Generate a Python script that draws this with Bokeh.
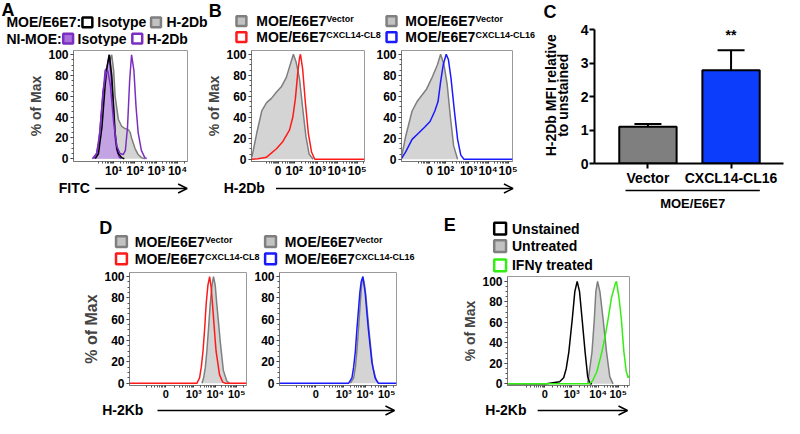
import numpy as np
from bokeh.plotting import figure
from bokeh.layouts import row, column
from bokeh.models import (Range1d, FixedTicker, Label, Arrow, OpenHead, Whisker,
                          TeeHead, ColumnDataSource)
from bokeh.core.properties import value
from bokeh.embed import file_html
from bokeh.resources import INLINE

FONT = "Liberation Sans"

# ---------------------------------------------------------------- data
# Panel A  (x in log10 FITC units)
A_TICKS = [1, 2, 3, 4]
A_LABELS = ["10¹", "10²", "10³", "10⁴"]
a_e6e7_iso_x = [0.14, 0.29, 0.45, 0.60, 0.70, 0.80, 0.91, 1.00, 1.07, 1.15, 1.22, 1.38, 1.50]
a_e6e7_iso_y = [0, 5, 30, 70, 90, 100, 80, 50, 25, 10, 5, 1, 0]
a_e6e7_h2db_x = [0.29, 0.45, 0.60, 0.76, 0.91, 1.00, 1.07, 1.22, 1.38, 1.53, 1.69, 1.78, 1.84, 2.00, 2.15, 2.31, 2.46]
a_e6e7_h2db_y = [0, 20, 60, 90, 100, 85, 60, 38, 31, 29, 28, 25, 20, 10, 4, 1, 0]
a_ni_iso_x = [0.06, 0.20, 0.30, 0.45, 0.60, 0.70, 0.78, 0.90, 1.00, 1.07, 1.15, 1.25, 1.35]
a_ni_iso_y = [0, 5, 15, 50, 85, 88, 100, 75, 45, 20, 8, 2, 0]
a_ni_h2db_x = [0.0, 0.2, 0.35, 0.5, 0.62, 0.72, 0.85, 1.0, 1.15, 1.3, 1.45, 1.55, 1.65, 1.75, 1.84, 1.95, 2.05, 2.15, 2.3, 2.46, 2.55]
a_ni_h2db_y = [0, 5, 25, 65, 80, 85, 70, 35, 12, 5, 4, 8, 30, 75, 100, 85, 50, 25, 8, 1, 0]

# Panel B  (biexponential display units)
B_TICKS = [0, 0.8, 1.95, 2.93, 3.93]
B_LABELS = ["0", "10²", "10³", "10⁴", "10⁵"]
b1_vec_x = [-1.30, -1.06, -0.81, -0.57, -0.33, -0.08, 0.16, 0.41, 0.60, 0.76, 0.89, 1.06, 1.22, 1.38, 1.54, 1.74]
b1_vec_y = [2, 25, 46, 54, 58, 64, 69, 78, 90, 100, 93, 77, 49, 22, 5, 0]
b1_cl8_x = [-1.32, -1.0, -0.57, -0.08, 0.24, 0.57, 0.73, 0.86, 0.98, 1.06, 1.11, 1.22, 1.35, 1.50, 1.66, 1.82, 4.29]
b1_cl8_y = [0, 0.5, 2, 10, 17, 28, 40, 58, 83, 96, 100, 86, 55, 25, 7, 0, 0]
b2_vec_x = [-1.41, -1.20, -0.88, -0.63, -0.39, -0.15, 0.10, 0.39, 0.55, 0.72, 0.88, 1.04, 1.20, 1.40]
b2_vec_y = [2, 22, 46, 55, 61, 67, 77, 90, 100, 90, 71, 40, 13, 0]
b2_cl16_x = [-1.41, -1.20, -0.88, -0.55, -0.23, 0.02, 0.26, 0.42, 0.55, 0.68, 0.83, 0.94, 1.07, 1.24, 1.40, 1.56, 1.72, 4.15]
b2_cl16_y = [0.6, 7, 19, 25, 31, 36, 46, 55, 74, 90, 100, 95, 77, 46, 19, 4, 0, 0]

# Panel C
c_groups = ["Vector", "CXCL14-CL16"]
c_mean = [1.10, 2.78]
c_err_low = [1.03, 2.22]
c_err_high = [1.18, 3.38]
c_colors = ["#7f7f7f", "#0b3dfb"]
c_yticks = [0, 1, 2, 3, 4]

# Panel D
D_TICKS = [0, 1.31, 2.31, 3.31]
D_LABELS = ["0", "10³", "10⁴", "10⁵"]
d1_vec_x = [1.69, 1.77, 1.85, 1.92, 2.00, 2.08, 2.16, 2.23, 2.31, 2.38, 2.46, 2.54, 2.69, 2.85, 2.97]
d1_vec_y = [0, 5, 15, 30, 52, 75, 92, 100, 92, 75, 58, 40, 12, 2, 0]
d1_cl8_x = [-1.69, 1.46, 1.58, 1.66, 1.74, 1.82, 1.89, 1.97, 2.05, 2.12, 2.20, 2.28, 2.35, 2.51, 2.66, 2.77, 3.77]
d1_cl8_y = [0, 0, 5, 15, 30, 52, 75, 92, 100, 90, 70, 48, 30, 8, 1, 0, 0]
d2_vec_x = [1.62, 1.77, 1.85, 1.92, 2.00, 2.08, 2.14, 2.20, 2.28, 2.35, 2.43, 2.51, 2.66, 2.82, 2.92]
d2_vec_y = [0, 5, 15, 30, 52, 75, 92, 100, 92, 80, 62, 45, 15, 3, 0]
d2_cl16_x = [-1.69, 1.54, 1.69, 1.77, 1.85, 1.92, 2.00, 2.06, 2.12, 2.20, 2.31, 2.38, 2.46, 2.62, 2.77, 2.92, 3.77]
d2_cl16_y = [0, 0, 5, 15, 30, 50, 70, 85, 95, 100, 85, 68, 50, 20, 5, 0, 0]

# Panel E
E_TICKS = [0, 1.25, 2.49, 3.42]
E_LABELS = ["0", "10³", "10⁴", "10⁵"]
e_unst_x = [-1.74, 0.08, 0.38, 0.69, 0.88, 1.00, 1.12, 1.28, 1.40, 1.51, 1.62, 1.74, 1.88, 2.00, 2.11, 2.2]
e_unst_y = [0, 0, 1, 2, 6, 15, 31, 63, 90, 100, 90, 63, 31, 7, 0, 0]
e_untr_x = [2.00, 2.20, 2.31, 2.38, 2.46, 2.57, 2.72, 2.88, 3.03, 3.18]
e_untr_y = [0, 31, 63, 90, 100, 90, 63, 31, 7, 0]
e_ifn_x = [-1.74, 2.08, 2.23, 2.43, 2.66, 2.82, 2.95, 3.11, 3.28, 3.34, 3.46, 3.57, 3.69, 3.80, 3.89, 3.95]
e_ifn_y = [0, 0, 3, 12, 31, 47, 63, 84, 97, 100, 84, 63, 31, 12, 6, 8]

# ---------------------------------------------------------------- colours
GRAY_FILL = "#d4d4d4"
GRAY_LINE = "#7f7f7f"
PURPLE = "#7a2fc0"
PURPLE_FILL = "#c3a3e3"
PURPLE_SWATCH = "#a970dc"
RED = "#ff1a1a"
BLUE = "#1a1aff"
GREEN = "#33ee11"

# ---------------------------------------------------------------- geometry helpers
SX = 784 / 794.0
SY = 418 / 428.0


def X(xr):
    return (xr - 4) * SX


def Y(yr):
    return (yr - 6) * SY


def ri(v):
    return int(round(v))


def canvas(x0, y0, x1, y1):
    L, R, T, B = ri(X(x0)), ri(X(x1)), ri(Y(y0)), ri(Y(y1))
    xa, xb = L / SX + 4, R / SX + 4
    ya, yb = T / SY + 6, B / SY + 6
    p = figure(width=R - L, height=B - T, x_range=Range1d(xa, xb), y_range=Range1d(yb, ya),
               x_axis_type=None, y_axis_type=None, min_border=0, toolbar_location=None,
               outline_line_color=None, output_backend="svg")
    p.background_fill_color = "white"
    p.border_fill_color = "white"
    return p


def texts(p, xs, ys, ts, size="14px", align="left", angle=0.0):
    p.text(x=xs, y=ys, text=ts, text_font=value(FONT), text_font_style="bold",
           text_font_size=size, text_align=align, text_baseline="middle", text_color="black",
           angle=angle)


def swatch(p, cx, cy, s, fill, line):
    p.rect(x=[cx], y=[cy], width=s, height=s, fill_color=fill, line_color=line, line_width=2.5)


def arrow(p, x0, x1, y):
    p.add_layout(Arrow(end=OpenHead(size=9, line_width=1.5, line_color="black"),
                       x_start=x0, y_start=y, x_end=x1, y_end=y, line_width=1.5, line_color="black"))


def minor_from(ticks, lo, hi):
    step = ticks[1] - ticks[0]
    ext = [ticks[0] - step] + list(ticks) + [ticks[-1] + (ticks[-1] - ticks[-2])]
    out = []
    for a, b in zip(ext[:-1], ext[1:]):
        for k in range(2, 10):
            v = a + np.log10(k) * (b - a)
            if lo < v < hi:
                out.append(float(v))
    return out


def hist_fig(box, frame, x_rng, y_rng, xticks, xlabels, ylabel, ylabel_size="14px",
             xlabel_size="11px"):
    bx0, by0, bx1, by1 = box
    fx0, fy0, fx1, fy1 = frame
    L, R, T, B = ri(X(bx0)), ri(X(bx1)), ri(Y(by0)), ri(Y(by1))
    fl, fr, ft, fb = ri(X(fx0)), ri(X(fx1)), ri(Y(fy0)), ri(Y(fy1))
    p = figure(width=R - L, height=B - T, x_range=Range1d(*x_rng), y_range=Range1d(*y_rng),
               min_border_left=fl - L, min_border_right=R - fr, min_border_top=ft - T,
               min_border_bottom=B - fb, toolbar_location=None, output_backend="svg")
    p.grid.visible = False
    p.outline_line_color = "#9a9a9a"
    p.background_fill_color = "white"
    p.border_fill_color = "white"
    for ax in (p.xaxis[0], p.yaxis[0]):
        ax.axis_line_color = "#777777"
        ax.major_tick_line_color = "#333333"
        ax.minor_tick_line_color = "#555555"
        ax.major_tick_in = 0
        ax.minor_tick_in = 0
        ax.minor_tick_out = 2
        ax.major_label_text_font = FONT
        ax.major_label_text_font_style = "bold"
        ax.major_label_text_color = "black"
    yax = p.yaxis[0]
    yax.ticker = FixedTicker(ticks=[0, 20, 40, 60, 80, 100], minor_ticks=list(range(0, 101, 5)))
    yax.major_tick_out = 3
    yax.major_label_standoff = 2
    yax.major_label_text_font_size = "12px"
    if ylabel:
        yax.axis_label = ylabel
        yax.axis_label_text_font = FONT
        yax.axis_label_text_font_style = "bold"
        yax.axis_label_text_font_size = ylabel_size
        yax.axis_label_standoff = 1
    xax = p.xaxis[0]
    xax.ticker = FixedTicker(ticks=xticks, minor_ticks=minor_from(xticks, x_rng[0], x_rng[1]))
    xax.major_label_overrides = {t: l for t, l in zip(xticks, xlabels)}
    xax.major_tick_out = 2
    xax.major_label_standoff = 0
    xax.major_label_text_font_size = xlabel_size
    return p


def filled(p, x, y, fill, line):
    p.varea(x=x, y1=0, y2=y, fill_color=fill)
    p.line(x, y, line_color=line, line_width=1.5)


def outline(p, x, y, line):
    p.line(x, y, line_color=line, line_width=1.5)


SUP = 71  # offset of superscript after "MOE/E6E7" (reference px)

# ================================================================ top block
hdrAB = canvas(4, 6, 552, 53)
texts(hdrAB, [5, 215], [15.5, 17], ["A", "B"], size="18px")
texts(hdrAB, [10, 102, 172, 10, 82, 152], [28.5, 28.5, 28.5, 45, 45, 45],
      ["MOE/E6E7:", "Isotype", "H-2Db", "NI-MOE:", "Isotype", "H-2Db"])
swatch(hdrAB, 92, 28.5, 10, "white", "black")
swatch(hdrAB, 161.5, 28.5, 10, "#c2c2c2", GRAY_LINE)
swatch(hdrAB, 72.5, 45, 10, PURPLE_SWATCH, PURPLE)
swatch(hdrAB, 142.5, 45, 10, "white", PURPLE)
texts(hdrAB, [263, 263, 414, 414], [27, 43.5, 27, 43.5], ["MOE/E6E7"] * 4)
texts(hdrAB, [263 + SUP, 263 + SUP, 414 + SUP, 414 + SUP], [25.2, 41.7, 25.2, 41.7],
      ["Vector", "CXCL14-CL8", "Vector", "CXCL14-CL16"], size="9px")
swatch(hdrAB, 248, 27, 10, "#c2c2c2", GRAY_LINE)
swatch(hdrAB, 248, 43.5, 10, "white", RED)
swatch(hdrAB, 400, 27, 10, "#c2c2c2", GRAY_LINE)
swatch(hdrAB, 400, 43.5, 10, "white", BLUE)

figA = hist_fig((4, 53, 200, 190), (78, 57, 193, 174), (-0.884, 4.465), (-2.7, 104.1),
                A_TICKS, A_LABELS, "% of Max", xlabel_size="12px")
filled(figA, a_e6e7_h2db_x, a_e6e7_h2db_y, GRAY_FILL, GRAY_LINE)
filled(figA, a_ni_iso_x, a_ni_iso_y, PURPLE_FILL, PURPLE)
outline(figA, a_e6e7_iso_x, a_e6e7_iso_y, "black")
outline(figA, a_ni_h2db_x, a_ni_h2db_y, PURPLE)

figB1 = hist_fig((200, 53, 382, 190), (258, 57, 373, 173), (-1.32, 4.29), (-2.1, 103.6),
                 B_TICKS, B_LABELS, "% of Max", xlabel_size="12px")
filled(figB1, b1_vec_x, b1_vec_y, GRAY_FILL, GRAY_LINE)
outline(figB1, b1_cl8_x, b1_cl8_y, RED)

figB2 = hist_fig((382, 53, 552, 190), (409, 57, 523, 173), (-1.41, 4.15), (-2.1, 103.6),
                 B_TICKS, B_LABELS, None, xlabel_size="12px")
filled(figB2, b2_vec_x, b2_vec_y, GRAY_FILL, GRAY_LINE)
outline(figB2, b2_cl16_x, b2_cl16_y, BLUE)

ftrAB = canvas(4, 190, 552, 225)
texts(ftrAB, [63, 230], [198, 197.5], ["FITC", "H-2Db"])
arrow(ftrAB, 100, 193, 198.5)
arrow(ftrAB, 283, 523, 198.5)

# ---- panel C
c_pos = list(range(len(c_groups)))
XC0, XPX = 660.0, 84.0     # reference pixel of first category, pixels per category
YC0, YPX = 174.0, 34.5     # reference pixel of y = 0, pixels per unit


def cx(xr):
    return (xr - XC0) / XPX


C_BOX = (585, 30, 798, 198)
C_FRAME = (606, 36, 797, 174)
L, R, T, B = ri(X(C_BOX[0])), ri(X(C_BOX[2])), ri(Y(C_BOX[1])), ri(Y(C_BOX[3]))
fl, fr, ft, fb = ri(X(C_FRAME[0])), ri(X(C_FRAME[2])), ri(Y(C_FRAME[1])), ri(Y(C_FRAME[3]))

figC = figure(width=R - L, height=B - T,
              x_range=Range1d(cx(C_FRAME[0]), cx(C_FRAME[2])), y_range=Range1d(0, 4),
              min_border_left=fl - L, min_border_right=R - fr, min_border_top=ft - T,
              min_border_bottom=B - fb, toolbar_location=None, output_backend="svg")
figC.grid.visible = False
figC.outline_line_color = None
figC.border_fill_color = "white"
figC.vbar(x=c_pos, top=c_mean, width=0.69, fill_color=c_colors, line_color="black", line_width=2)
src = ColumnDataSource(dict(base=c_pos, upper=c_err_high, lower=c_err_low))
figC.add_layout(Whisker(source=src, base="base", upper="upper", lower="lower", dimension="height",
                        line_color="black", line_width=2,
                        upper_head=TeeHead(size=27, line_width=2, line_color="black"),
                        lower_head=TeeHead(size=27, line_width=2, line_color="black")))
for ax in (figC.xaxis[0], figC.yaxis[0]):
    ax.axis_line_width = 2
    ax.axis_line_color = "black"
    ax.major_tick_line_width = 2
    ax.major_tick_in = 0
    ax.major_tick_out = 5
    ax.minor_tick_line_color = None
    ax.major_label_text_font = FONT
    ax.major_label_text_font_style = "bold"
    ax.major_label_text_font_size = "14px"
    ax.major_label_text_color = "black"
figC.yaxis[0].ticker = FixedTicker(ticks=c_yticks)
figC.yaxis[0].major_label_standoff = 1
figC.xaxis[0].ticker = FixedTicker(ticks=c_pos)
figC.xaxis[0].major_label_overrides = {i: g for i, g in zip(c_pos, c_groups)}
figC.xaxis[0].major_label_standoff = 1
figC.add_layout(Label(x=1, y=(YC0 - 42) / YPX, text="**", text_font=FONT, text_font_style="bold",
                      text_font_size="14px", text_align="center", text_baseline="middle",
                      text_color="black"))

hdrC = canvas(552, 6, 798, 30)
texts(hdrC, [554], [18], ["C"], size="18px")
leftC = canvas(552, 30, 585, 198)
texts(leftC, [562, 574], [103, 103], ["H-2Db MFI relative", "to unstained"], align="center",
      angle=np.pi / 2)
ftrC = canvas(552, 198, 798, 225)
ftrC.segment(x0=[637], y0=[200.5], x1=[773], y1=[200.5], line_color="black", line_width=1.5)
texts(ftrC, [705], [213.5], ["MOE/E6E7"], size="13px", align="center")

colC = column(hdrC, row(column(leftC), column(figC)), ftrC)

top = row(column(hdrAB, row(figA, figB1, figB2), ftrAB), colC)

# ================================================================ bottom block
hdrD = canvas(4, 225, 428, 283)
texts(hdrD, [104], [238.5], ["D"], size="18px")
texts(hdrD, [140, 140, 292, 292], [253, 270.5, 253, 270.5], ["MOE/E6E7"] * 4)
texts(hdrD, [140 + SUP, 140 + SUP, 292 + SUP, 292 + SUP], [251.2, 268.7, 251.2, 268.7],
      ["Vector", "CXCL14-CL8", "Vector", "CXCL14-CL16"], size="9px")
swatch(hdrD, 126.5, 253, 11, "#c2c2c2", GRAY_LINE)
swatch(hdrD, 126.5, 270.5, 11, "white", RED)
swatch(hdrD, 277.5, 253, 11, "#c2c2c2", GRAY_LINE)
swatch(hdrD, 277.5, 270.5, 11, "white", BLUE)

figD1 = hist_fig((4, 283, 258, 418), (135, 285, 253, 401.7), (-1.69, 3.77), (-2.2, 103.9),
                 D_TICKS, D_LABELS, "% of Max", ylabel_size="16px")
filled(figD1, d1_vec_x, d1_vec_y, GRAY_FILL, GRAY_LINE)
outline(figD1, d1_cl8_x, d1_cl8_y, RED)

figD2 = hist_fig((258, 283, 428, 418), (286.7, 285, 405, 401.7), (-1.69, 3.77), (-2.2, 103.9),
                 D_TICKS, D_LABELS, None)
filled(figD2, d2_vec_x, d2_vec_y, GRAY_FILL, GRAY_LINE)
outline(figD2, d2_cl16_x, d2_cl16_y, BLUE)

ftrD = canvas(4, 418, 428, 434)
texts(ftrD, [107], [425.8], ["H-2Kb"])
arrow(ftrD, 163, 403, 425.8)

hdrE = canvas(428, 225, 798, 286)
texts(hdrE, [453], [235.5], ["E"], size="18px")
texts(hdrE, [522, 522, 522], [239.5, 257.5, 277.3], ["Unstained", "Untreated", "IFNγ treated"])
swatch(hdrE, 510, 239.5, 12, "white", "black")
swatch(hdrE, 510, 257.5, 12, "#c2c2c2", GRAY_LINE)
swatch(hdrE, 510, 277.3, 12, "white", GREEN)

figE = hist_fig((428, 286, 798, 418), (517.3, 288.3, 640.7, 401.7), (-1.74, 3.95), (-1.6, 104.7),
                E_TICKS, E_LABELS, "% of Max")
filled(figE, e_untr_x, e_untr_y, GRAY_FILL, GRAY_LINE)
outline(figE, e_unst_x, e_unst_y, "black")
outline(figE, e_ifn_x, e_ifn_y, GREEN)

ftrE = canvas(428, 418, 798, 434)
texts(ftrE, [495], [425.8], ["H-2Kb"])
arrow(ftrE, 548, 639, 425.8)

bottom = row(column(hdrD, row(figD1, figD2), ftrD), column(hdrE, row(figE), ftrE))

layout = column(top, bottom)

with open("out.html", "w") as f:
    f.write(file_html(layout, INLINE))
